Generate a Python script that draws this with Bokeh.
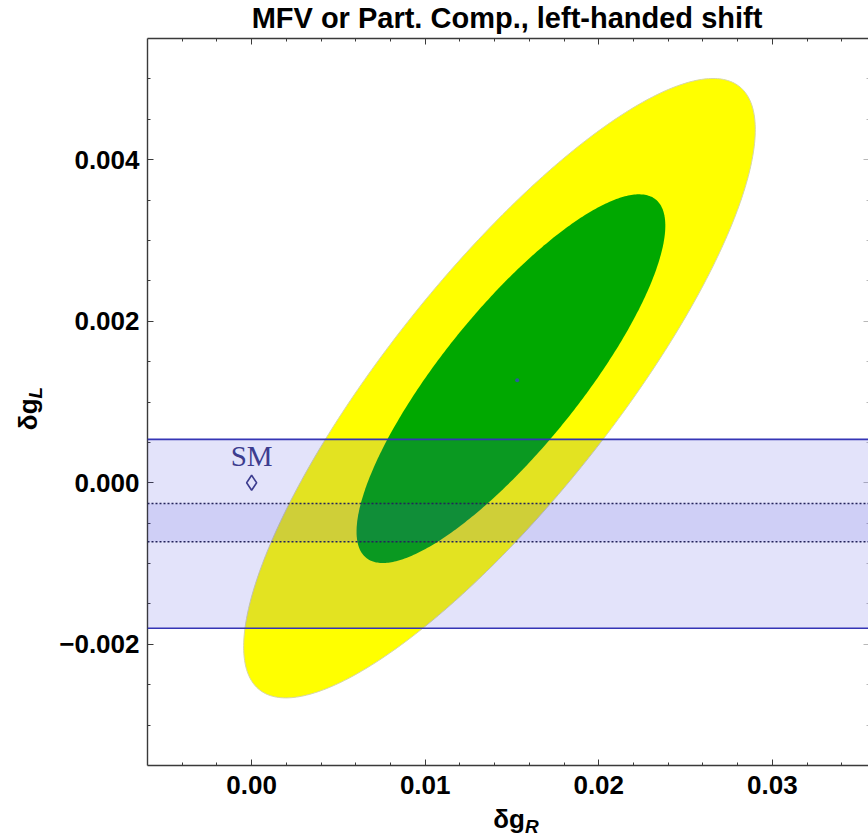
import numpy as np
from bokeh.plotting import figure
from bokeh.layouts import column, row
from bokeh.models import (Range1d, LinearAxis, FixedTicker, CustomJSTickFormatter,
                          BoxAnnotation, Span, Div, Spacer)
from bokeh.embed import file_html
from bokeh.resources import INLINE

# Plot window in the (delta g_R, delta g_L) plane
x_lim = (-0.006, 0.0356)
y_lim = (-0.0035, 0.0055)

# Tick positions
x_ticks_major = [0.00, 0.01, 0.02, 0.03]
x_ticks_minor = [-0.004, -0.002, 0.002, 0.004, 0.006, 0.008, 0.012, 0.014, 0.016, 0.018,
                 0.022, 0.024, 0.026, 0.028, 0.032, 0.034]
y_ticks_major = [-0.002, 0.000, 0.002, 0.004]
y_ticks_minor = [-0.003, -0.0025, -0.0015, -0.001, -0.0005, 0.0005, 0.001, 0.0015,
                 0.0025, 0.003, 0.0035, 0.0045, 0.005]

# Best-fit point of the fit
best_fit_x = [0.0153]
best_fit_y = [0.00127]

# Confidence ellipses: centre, half-extents along each axis, correlation
ell_outer_center = (0.01428, 0.001171)
ell_outer_halfwidth = (0.01474, 0.003834)
ell_outer_rho = 0.835

ell_inner_center = (0.01494, 0.001289)
ell_inner_halfwidth = (0.008895, 0.002282)
ell_inner_rho = 0.83

# Left-handed shift band (outer range and central range)
band_outer = (-0.00180, 0.000537)
band_inner = (-0.00073, -0.000255)

# Standard Model point
sm_x = [0.0]
sm_y = [0.0]
sm_text = ["SM"]

title_text = "MFV or Part. Comp., left-handed shift"
x_label_html = "&delta;g"
x_label_sub = "R"
y_label_html = "&delta;g"
y_label_sub = "L"


def ellipse(center, halfwidth, rho, n=400):
    t = np.linspace(0.0, 2.0 * np.pi, n)
    phi = np.arccos(rho)
    xs = center[0] + halfwidth[0] * np.cos(t)
    ys = center[1] + halfwidth[1] * np.cos(t - phi)
    return xs, ys


FRAME_W, FRAME_H = 722, 727
LEFT_BORDER, TOP_BORDER, BOTTOM_BORDER = 90, 2, 35
YLAB_W, TITLE_H = 56, 36
PLOT_H = TOP_BORDER + FRAME_H + BOTTOM_BORDER
XLAB_H = 838 - TITLE_H - PLOT_H

p = figure(frame_width=FRAME_W, frame_height=FRAME_H,
           x_range=Range1d(*x_lim), y_range=Range1d(*y_lim),
           min_border_left=LEFT_BORDER, min_border_right=0,
           min_border_top=TOP_BORDER, min_border_bottom=BOTTOM_BORDER,
           output_backend="svg", toolbar_location=None, margin=0)
p.outline_line_color = None
p.xgrid.visible = False
p.ygrid.visible = False
p.background_fill_color = "white"
p.border_fill_color = "white"

# Confidence regions
ox, oy = ellipse(ell_outer_center, ell_outer_halfwidth, ell_outer_rho)
p.patch(ox, oy, fill_color="#ffff00", line_color="#d6d6a8", line_width=1)
ix, iy = ellipse(ell_inner_center, ell_inner_halfwidth, ell_inner_rho)
p.patch(ix, iy, fill_color="#00a800", line_color=None)

# Best-fit marker
p.scatter(best_fit_x, best_fit_y, size=4, fill_color="#2b5a9a", line_color=None)

# Shaded band
p.add_layout(BoxAnnotation(bottom=band_outer[0], top=band_outer[1],
                           fill_color="#4040e0", fill_alpha=0.15, line_color=None))
p.add_layout(BoxAnnotation(bottom=band_inner[0], top=band_inner[1],
                           fill_color="#4040e0", fill_alpha=0.12, line_color=None))
for loc in band_outer:
    p.add_layout(Span(location=loc, dimension="width", line_color="#3535b5", line_width=1.6))
for loc in band_inner:
    p.add_layout(Span(location=loc, dimension="width", line_color="#23235a",
                      line_width=1.5, line_dash="2 2"))

# SM point and its tag
sm_marker = p.scatter(sm_x, sm_y, marker="diamond", size=15, fill_color=None,
                      line_color="#3d3d8f", line_width=1.6)
sm_marker.level = "overlay"
sm_label = p.text(sm_x, sm_y, text=sm_text, text_align="center", text_baseline="alphabetic",
                  y_offset=-27, text_font_size="29px", text_color="#3d3d8f",
                  text_font={"value": "Liberation Serif"})
sm_label.level = "overlay"

# Axes: ticks pointing inward on all four sides
x_ticker = FixedTicker(ticks=x_ticks_major, minor_ticks=x_ticks_minor)
y_ticker = FixedTicker(ticks=y_ticks_major, minor_ticks=y_ticks_minor)
x_fmt = CustomJSTickFormatter(code="""
    const v = Math.abs(tick) < 1e-9 ? 0 : tick;
    return (v < 0 ? "\\u2212" : "") + Math.abs(v).toFixed(2);
""")
y_fmt = CustomJSTickFormatter(code="""
    const v = Math.abs(tick) < 1e-9 ? 0 : tick;
    return (v < 0 ? "\\u2212" : "") + Math.abs(v).toFixed(3);
""")
blank_fmt = CustomJSTickFormatter(code="return '';")


def style_axis(ax, color="#3a3a3a", line=True):
    ax.major_tick_in = 6
    ax.major_tick_out = 0
    ax.minor_tick_in = 3
    ax.minor_tick_out = 0
    ax.major_tick_line_color = color
    ax.minor_tick_line_color = color
    ax.major_tick_line_width = 1
    ax.minor_tick_line_width = 1
    ax.axis_line_color = color if line else None
    ax.axis_line_width = 1.4
    ax.major_label_text_font = "Liberation Sans"
    ax.major_label_text_font_style = "bold"
    ax.major_label_text_font_size = "26px"
    ax.major_label_text_color = "black"


xa = p.xaxis[0]
xa.ticker = x_ticker
xa.formatter = x_fmt
style_axis(xa)
xa.major_label_standoff = 10

ya = p.yaxis[0]
ya.ticker = y_ticker
ya.formatter = y_fmt
style_axis(ya)
ya.major_label_standoff = 8

top_axis = LinearAxis(ticker=x_ticker, formatter=blank_fmt)
style_axis(top_axis)
top_axis.major_label_standoff = 0
p.add_layout(top_axis, "above")

right_axis = LinearAxis(ticker=y_ticker, formatter=blank_fmt)
style_axis(right_axis, color="#b8b8b8", line=False)
right_axis.major_label_standoff = 0
p.add_layout(right_axis, "right")

# Title and axis labels as HTML text around the figure
font = "font-family:'Liberation Sans',Arial,sans-serif;font-weight:bold;color:black;"
sub_style = "font-size:19px;font-style:italic;position:relative;top:5px;"

title_div = Div(text=(f'<div style="width:{FRAME_W}px;text-align:center;{font}'
                      f'font-size:29px;line-height:33px;padding-top:2px;white-space:nowrap;">'
                      f'{title_text}</div>'),
                width=FRAME_W, height=TITLE_H, margin=0)

xlab_div = Div(text=(f'<div style="width:{FRAME_W}px;text-align:center;{font}'
                     f'font-size:26px;line-height:30px;padding-top:4px;padding-left:18px;'
                     f'box-sizing:border-box;white-space:nowrap;">'
                     f'{x_label_html}<span style="{sub_style}">{x_label_sub}</span></div>'),
               width=FRAME_W, height=XLAB_H, margin=0)

ylab_div = Div(text=(f'<div style="width:{YLAB_W}px;height:{PLOT_H}px;display:flex;'
                     f'align-items:center;justify-content:center;box-sizing:border-box;'
                     f'padding-left:4px;padding-bottom:20px;">'
                     f'<div style="transform:rotate(-90deg);white-space:nowrap;{font}'
                     f'font-size:26px;line-height:30px;">'
                     f'{y_label_html}<span style="{sub_style}">{y_label_sub}</span></div></div>'),
               width=YLAB_W, height=PLOT_H, margin=0)

layout = column(
    row(Spacer(width=YLAB_W + LEFT_BORDER, height=TITLE_H, margin=0), title_div, spacing=0),
    row(ylab_div, p, spacing=0),
    row(Spacer(width=YLAB_W + LEFT_BORDER, height=XLAB_H, margin=0), xlab_div, spacing=0),
    spacing=0,
)

open("out.html", "w").write(file_html(layout, INLINE))
